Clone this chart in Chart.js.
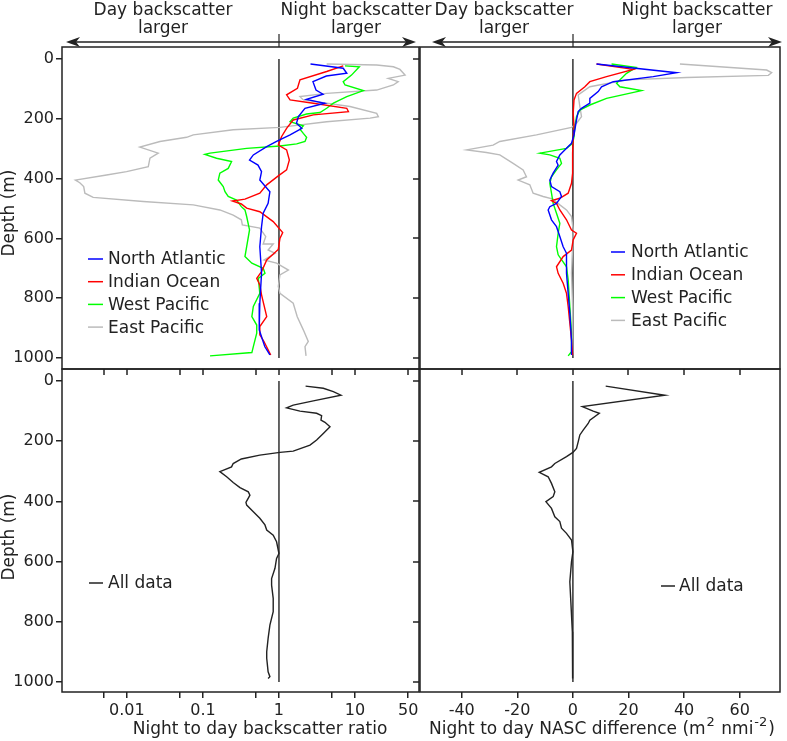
<!DOCTYPE html>
<html><head><meta charset="utf-8">
<script src="https://cdn.jsdelivr.net/npm/chart.js@4/dist/chart.umd.min.js"></script>
<style>
html,body{margin:0;padding:0;background:#fff;}
#wrap{position:relative;width:787px;height:741px;background:#fff;}
#wrap canvas{position:absolute;left:0;top:0;}
</style></head><body>
<div id="wrap">
<canvas id="cTL" width="787" height="741"></canvas>
<canvas id="cTR" width="787" height="741"></canvas>
<canvas id="cBL" width="787" height="741"></canvas>
<canvas id="cBR" width="787" height="741"></canvas>
</div>
<script>
// ---------- data ----------
const depthTicks = [0, 200, 400, 600, 800, 1000];
const ratioTicks = [0.005, 0.01, 0.05, 0.1, 0.5, 1, 5, 10, 50];
const ratioTickLabels = ['', '0.01', '', '0.1', '', '1', '', '10', '50'];
const diffTicks = [-40, -20, 0, 20, 40, 60];
const diffTickLabels = ['-40', '-20', '0', '20', '40', '60'];
const seriesNames = ['North Atlantic', 'Indian Ocean', 'West Pacific', 'East Pacific'];
const allName = 'All data';
const ratioRef = [1, 1];
const diffRef = [0, 0];
const refDepth = [0, 1000];

// night/day ratio profiles
const naRatioDepth = [17,31,48,57,76,104,118,135,148,165,193,215,232,254,276,293,321,338,355,377,405,444,483,516,561,628,717,817,906,962,990];
const naRatio = [2.6,7.0,7.8,4.2,2.8,3.07,3.8,2.3,4.0,2.2,1.8,1.7,2.0,1.4,0.93,0.69,0.46,0.41,0.53,0.59,0.56,0.76,0.72,0.62,0.59,0.56,0.59,0.56,0.55,0.65,0.76];
const ioRatioDepth = [23,42,70,98,120,137,148,165,176,187,204,232,260,288,304,338,371,391,421,449,469,475,485,499,511,544,581,600,637,672,711,734,756,789,862,895,923,945,973,990];
const ioRatio = [7.0,4.24,1.89,1.75,1.26,1.40,2.83,7.8,8.2,2.83,1.54,1.26,1.08,0.98,1.26,1.37,1.26,0.98,0.69,0.56,0.357,0.245,0.32,0.376,0.56,0.84,1.12,1.03,0.98,0.69,0.59,0.51,0.56,0.59,0.69,0.56,0.56,0.635,0.72,0.78];
const wpRatioDepth = [23,26,54,76,87,106,126,148,165,179,184,198,210,224,235,249,262,276,284,291,299,315,319,332,343,366,382,405,427,444,460,472,494,505,527,572,628,661,683,700,717,734,784,828,862,890,917,962,982,993];
const wpRatio = [7.4,11.4,9.0,7.0,7.4,12.9,7.8,5.2,4.24,3.46,2.31,1.54,1.40,2.09,1.89,2.09,2.31,2.2,1.71,1.03,0.376,0.124,0.106,0.151,0.238,0.215,0.167,0.159,0.185,0.195,0.215,0.277,0.32,0.357,0.376,0.41,0.376,0.357,0.44,0.62,0.655,0.535,0.56,0.46,0.44,0.51,0.51,0.46,0.44,0.124];
const epRatioDepth = [17,20,26,35,54,65,76,87,104,115,126,137,159,182,193,198,210,229,237,254,262,276,295,315,332,360,377,388,405,414,427,449,463,477,488,505,522,538,555,566,594,619,619,639,650,672,683,706,722,761,784,817,862,906,945,962,993];
const epRatio = [4.24,19.3,32,39,45.6,27.4,37,32,19.3,4.24,1.89,2.09,8.6,19.3,20.3,15.8,4.24,1.03,0.25,0.0746,0.061,0.0272,0.0148,0.0258,0.0201,0.0191,0.0099,0.0054,0.0021,0.0024,0.0027,0.0028,0.0036,0.0164,0.0746,0.167,0.25,0.32,0.33,0.56,0.67,0.62,0.84,0.72,0.89,0.635,0.93,1.33,1.03,0.98,1.03,1.54,1.74,2.09,2.43,2.2,2.27];

// night - day NASC difference profiles
const naDiffDepth = [17,46,59,76,93,109,132,148,165,176,204,237,254,282,299,321,343,355,382,405,427,444,460,483,494,505,538,561,594,628,650,717,784,851,940,990];
const naDiff = [8.5,37.3,28.9,14.5,10.3,9.1,6.1,6.1,3.1,1.9,1.3,0.7,0.4,-0.5,-2.3,-4.7,-5.9,-5.3,-7.1,-8.3,-7.7,-4.7,-4.1,-5.9,-8.3,-8.9,-7.7,-5.9,-4.7,-3.5,-2.3,-2.3,-1.7,-1.1,-0.5,-0.5];
const ioDiffDepth = [17,35,59,76,93,115,137,182,226,271,315,382,416,449,466,474,483,505,538,572,583,605,639,661,695,717,750,784,828,884,940,990];
const ioDiff = [8.5,21.7,12.1,6.1,4.3,1.3,0.4,0.1,0.4,0.1,-0.1,-0.1,-0.5,-1.7,-4.7,-7.7,-5.9,-4.7,-2.3,-0.5,1.3,0.1,-0.5,-3.5,-5.9,-5.3,-3.5,-2.3,-1.7,-1.1,-0.5,-0.1];
const wpDiffDepth = [17,28,48,81,93,106,132,154,171,193,226,260,282,299,315,321,332,349,371,394,416,449,483,516,550,583,628,655,695,739,828,917,979,993];
const wpDiff = [13.9,22.7,19.3,15.7,16.9,24.7,12.1,6.1,2.5,1.3,0.7,0.4,-0.1,-2.3,-11.9,-8.3,-4.7,-4.1,-5.9,-7.7,-8.3,-7.7,-7.1,-5.9,-4.7,-5.3,-5.9,-5.3,-2.3,-1.7,-1.1,-0.5,-0.5,-1.7];
const epDiffDepth = [17,37,46,55,62,70,93,120,159,193,215,229,254,276,288,304,313,321,349,371,394,405,421,449,460,469,488,505,527,572,628,717,828,940,990];
const epDiff = [38.5,69.7,71.5,70.3,40.9,19.3,6.1,1.9,2.5,3.1,1.3,-0.5,-13.1,-26.3,-28.7,-38.2,-31.1,-26.3,-21.5,-17.9,-16.7,-19.7,-15.5,-14.3,-10.7,-7.1,-4.7,-2.3,-0.5,0.1,-0.1,-0.5,-0.1,-0.1,-0.1];

// all data
const allRatioDepth = [17,24,35,47,66,80,89,100,107,115,130,137,152,174,196,213,233,237,246,259,274,285,301,318,337,354,368,379,403,412,434,456,478,495,512,534,573,589,622,656,678,722,766,811,855,899,921,966,982,988];
const allRatio = [2.24,3.83,5.19,6.54,2.83,1.54,1.26,1.89,3.13,3.64,3.57,4.03,4.69,3.83,3.13,2.56,1.54,1.03,0.56,0.32,0.25,0.238,0.167,0.205,0.25,0.307,0.395,0.415,0.368,0.376,0.46,0.56,0.654,0.69,0.84,0.93,1.0,0.93,0.886,0.80,0.80,0.84,0.84,0.76,0.72,0.69,0.69,0.72,0.76,0.72];
const allDiffDepth = [17,47,85,100,107,130,141,163,179,202,224,237,251,274,285,303,318,340,368,384,401,423,451,467,489,506,528,567,600,667,722,833,988];
const allDiff = [11.8,33.1,3.4,7.3,9.5,6.1,5.5,3.7,2.5,1.9,1.3,0,-2.3,-6.5,-7.7,-12.1,-8.9,-7.7,-6.5,-7.1,-9.7,-7.7,-6.5,-4.7,-4.1,-2.3,-0.5,0,-0.5,-1.1,-0.8,-0.2,-0.1];

// ---------- helpers ----------
const W = 787, H = 741;
const INK = '#222';
const FONT = "'DejaVu Sans', 'Liberation Sans', sans-serif";
const colors = ['#0000ff', '#ff0000', '#00ff00', '#bbbbbb'];
Chart.defaults.font.family = FONT;
Chart.defaults.color = INK;

function pts(vals, depths) { return vals.map((v, i) => ({ x: v, y: depths[i] })); }
function series(label, vals, depths, color) {
  return { label: label, data: pts(vals, depths), borderColor: color, backgroundColor: color,
           borderWidth: 1.4, pointRadius: 0, fill: false, tension: 0 };
}
function refSeries(vals) {
  return { label: '', data: pts(vals, refDepth), borderColor: '#333', borderWidth: 1.5,
           pointRadius: 0, fill: false, tension: 0 };
}

function line(ctx, x0, y0, x1, y1) { ctx.beginPath(); ctx.moveTo(x0, y0); ctx.lineTo(x1, y1); ctx.stroke(); }

function arrowHead(ctx, xTip, y, dir) {
  const L = 14, hw = 5;
  ctx.beginPath();
  ctx.moveTo(xTip, y);
  ctx.lineTo(xTip - dir * L, y - hw);
  ctx.lineTo(xTip - dir * (L - 4), y);
  ctx.lineTo(xTip - dir * L, y + hw);
  ctx.closePath();
  ctx.fill();
}

const decor = {
  id: 'decor',
  afterDraw(chart, args, o) {
    const ctx = chart.ctx, a = chart.chartArea;
    ctx.save();
    ctx.strokeStyle = INK; ctx.fillStyle = INK; ctx.lineWidth = 1.5;
    ctx.strokeRect(a.left, a.top, a.right - a.left, a.bottom - a.top);
    if (o.rightTicks) {
      const ys = chart.scales.y;
      depthTicks.forEach(v => { const py = Math.round(ys.getPixelForValue(v)); line(ctx, a.right - 6, py, a.right, py); });
    }
    if (o.topTicks) {
      const xs = chart.scales.x;
      o.topTicks.forEach(v => { const px = Math.round(xs.getPixelForValue(v)); line(ctx, px, a.top, px, a.top + 6); });
    }
    if (o.header) {
      const h = o.header;
      ctx.font = '17px ' + FONT; ctx.textAlign = 'center'; ctx.textBaseline = 'alphabetic';
      h.texts.forEach(t => { ctx.fillText(t[0], t[1], 15); ctx.fillText(t[2], t[1], 33); });
      ctx.lineWidth = 1.5;
      line(ctx, h.x0 + 4, 42, h.x1 - 4, 42);
      arrowHead(ctx, h.x0, 42, -1);
      arrowHead(ctx, h.x1, 42, 1);
      const mx = Math.round(chart.scales.x.getPixelForValue(h.mark));
      ctx.lineWidth = 1.2;
      line(ctx, mx, 34, mx, a.top);
    }
    if (o.legend) {
      const L = o.legend;
      ctx.font = '17px ' + FONT; ctx.textAlign = 'left'; ctx.textBaseline = 'middle';
      let i = 0;
      chart.data.datasets.forEach(ds => {
        if (!ds.label) return;
        const y = L.y + i * L.dy;
        ctx.strokeStyle = ds.borderColor; ctx.lineWidth = 1.5;
        line(ctx, L.x0, y, L.x1, y);
        ctx.fillStyle = INK;
        ctx.fillText(ds.label, L.tx, y + 1);
        i++;
      });
    }
    if (o.yTitle) {
      ctx.save();
      ctx.font = '17px ' + FONT; ctx.textAlign = 'center'; ctx.textBaseline = 'middle'; ctx.fillStyle = INK;
      ctx.translate(o.yTitle.x, o.yTitle.y); ctx.rotate(-Math.PI / 2);
      ctx.fillText(o.yTitle.text, 0, 0);
      ctx.restore();
    }
    if (o.xTitle) {
      const parts = o.xTitle.parts;
      const mainF = '17px ' + FONT, supF = '13px ' + FONT;
      const gap = 1;
      let total = 0;
      parts.forEach(p => { ctx.font = p.sup ? supF : mainF; total += ctx.measureText(p.t).width + (p.sup ? 2 * gap : 0); });
      let x = o.xTitle.x - total / 2;
      ctx.textAlign = 'left'; ctx.textBaseline = 'alphabetic'; ctx.fillStyle = INK;
      parts.forEach(p => {
        ctx.font = p.sup ? supF : mainF;
        if (p.sup) x += gap;
        ctx.fillText(p.t, x, p.sup ? o.xTitle.y - 8 : o.xTitle.y);
        x += ctx.measureText(p.t).width + (p.sup ? gap : 0);
      });
    }
    ctx.restore();
  }
};

function build(id, p) {
  const a = p.area;
  return new Chart(document.getElementById(id), {
    type: 'line',
    data: { datasets: p.datasets },
    options: {
      responsive: false, animation: false, devicePixelRatio: 1, events: [],
      layout: { padding: { left: p.showY ? 0 : a.left, right: W - a.right, top: a.top, bottom: p.showX ? 0 : H - a.bottom } },
      plugins: { legend: { display: false }, tooltip: { enabled: false }, decor: p.decor },
      scales: {
        x: {
          type: p.xType, min: p.xMin, max: p.xMax, position: 'bottom', display: p.showX,
          afterBuildTicks: s => { s.ticks = p.xTicks.map(v => ({ value: v })); },
          afterFit: s => { if (p.showX) s.height = H - a.bottom; },
          ticks: { autoSkip: false, maxRotation: 0, minRotation: 0, padding: 3, color: INK,
                   font: { size: 16 }, callback: (v, i) => p.xTickLabels[i] },
          grid: { drawOnChartArea: false, drawTicks: true, tickLength: 6, color: INK, lineWidth: 1.5 },
          border: { display: false }
        },
        y: {
          type: 'linear', reverse: true, min: p.yMin, max: p.yMax, position: 'left', display: p.showY,
          afterBuildTicks: s => { s.ticks = depthTicks.map(v => ({ value: v })); },
          afterFit: s => { if (p.showY) s.width = a.left; },
          ticks: { autoSkip: false, padding: 2, color: INK, font: { size: 16 },
                   callback: (v, i) => String(depthTicks[i]) },
          grid: { drawOnChartArea: false, drawTicks: true, tickLength: 6, color: INK, lineWidth: 1.5 },
          border: { display: false }
        }
      }
    },
    plugins: [decor]
  });
}

const regionRatio = [
  series(seriesNames[0], naRatio, naRatioDepth, colors[0]),
  series(seriesNames[1], ioRatio, ioRatioDepth, colors[1]),
  series(seriesNames[2], wpRatio, wpRatioDepth, colors[2]),
  series(seriesNames[3], epRatio, epRatioDepth, colors[3]),
  refSeries(ratioRef)
];
const regionDiff = [
  series(seriesNames[0], naDiff, naDiffDepth, colors[0]),
  series(seriesNames[1], ioDiff, ioDiffDepth, colors[1]),
  series(seriesNames[2], wpDiff, wpDiffDepth, colors[2]),
  series(seriesNames[3], epDiff, epDiffDepth, colors[3]),
  refSeries(diffRef)
];

build('cTL', {
  area: { left: 62, top: 47, right: 419, bottom: 369 }, showX: false, showY: true,
  xType: 'logarithmic', xMin: 0.0014, xMax: 69.5, xTicks: ratioTicks, xTickLabels: ratioTickLabels,
  yMin: -40, yMax: 1037, datasets: regionRatio,
  decor: { rightTicks: true,
    header: { texts: [['Day backscatter', 163, 'larger'], ['Night backscatter', 356, 'larger']], x0: 66, x1: 416, mark: 1 },
    legend: { x0: 88, x1: 103, tx: 108, y: 259, dy: 22.7 },
    yTitle: { text: 'Depth (m)', x: 10, y: 213 } }
});
build('cTR', {
  area: { left: 420, top: 47, right: 780, bottom: 369 }, showX: false, showY: false,
  xType: 'linear', xMin: -55, xMax: 74.5, xTicks: diffTicks, xTickLabels: diffTickLabels,
  yMin: -40, yMax: 1037, datasets: regionDiff,
  decor: {
    header: { texts: [['Day backscatter', 504, 'larger'], ['Night backscatter', 697, 'larger']], x0: 432, x1: 782, mark: 0 },
    legend: { x0: 611, x1: 625, tx: 631, y: 252, dy: 22.8 } }
});
build('cBL', {
  area: { left: 62, top: 369, right: 419, bottom: 692 }, showX: true, showY: true,
  xType: 'logarithmic', xMin: 0.0014, xMax: 69.5, xTicks: ratioTicks, xTickLabels: ratioTickLabels,
  yMin: -40, yMax: 1033,
  datasets: [series(allName, allRatio, allRatioDepth, INK), refSeries(ratioRef)],
  decor: { rightTicks: true, topTicks: ratioTicks,
    legend: { x0: 89, x1: 103, tx: 108, y: 583, dy: 22 },
    yTitle: { text: 'Depth (m)', x: 10, y: 537 },
    xTitle: { parts: [{ t: 'Night to day backscatter ratio' }], x: 260, y: 734 } }
});
build('cBR', {
  area: { left: 420, top: 369, right: 780, bottom: 692 }, showX: true, showY: false,
  xType: 'linear', xMin: -55, xMax: 74.5, xTicks: diffTicks, xTickLabels: diffTickLabels,
  yMin: -40, yMax: 1033,
  datasets: [series(allName, allDiff, allDiffDepth, INK), refSeries(diffRef)],
  decor: { topTicks: diffTicks,
    legend: { x0: 661, x1: 675, tx: 679, y: 586, dy: 22 },
    xTitle: { parts: [{ t: 'Night to day NASC difference (m' }, { t: '2', sup: true }, { t: ' nmi' }, { t: '-2', sup: true }, { t: ')' }], x: 602, y: 734 } }
});
</script>
</body></html>
